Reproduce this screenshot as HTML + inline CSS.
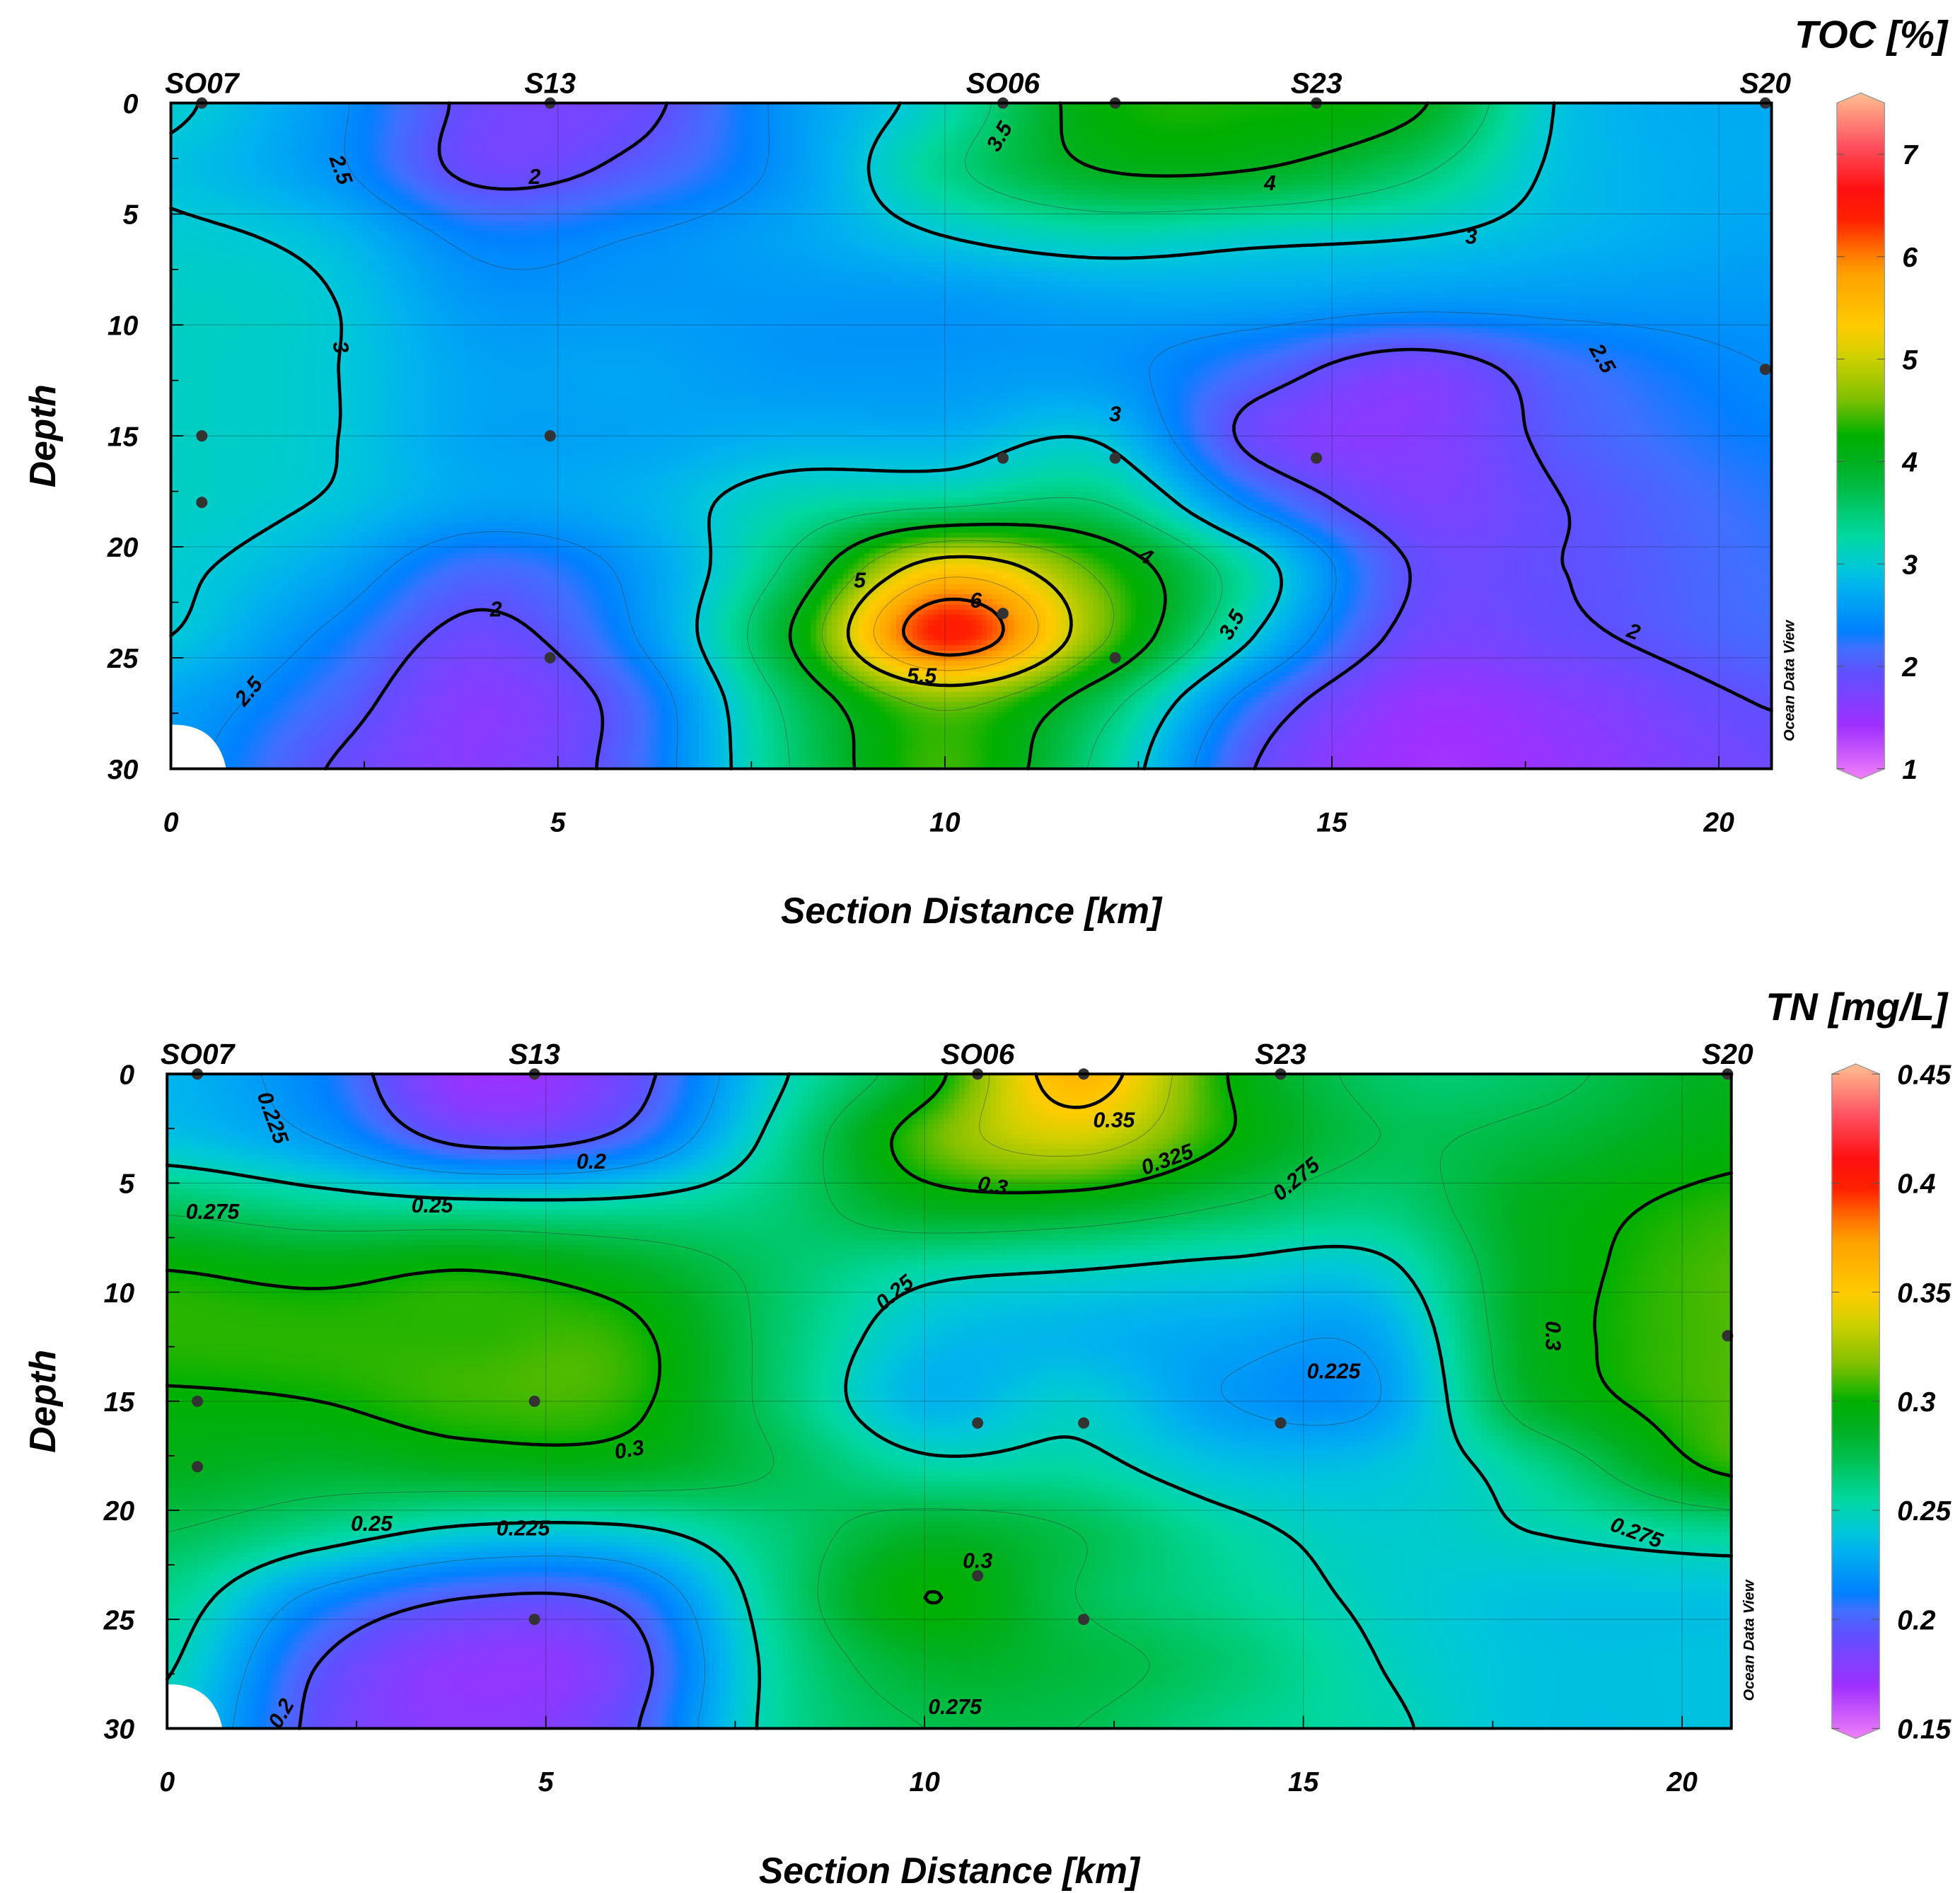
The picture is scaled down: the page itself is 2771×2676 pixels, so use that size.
<!DOCTYPE html>
<html><head><meta charset="utf-8">
<style>
html,body{margin:0;padding:0;background:#fff}
#wrap{position:relative;width:2771px;height:2676px;overflow:hidden}
canvas,svg{position:absolute;left:0;top:0}
text{font-family:"Liberation Sans",sans-serif;font-weight:bold;font-style:italic;fill:#000}
</style></head>
<body>
<div id="wrap">
<canvas id="cv" width="2771" height="2676"></canvas>
<svg id="sv" width="2771" height="2676" viewBox="0 0 1560 1507" preserveAspectRatio="none"></svg>
</div>
<script>
// ---------- data ----------
const xsKm = [0,2,4,6,8,10,12,14,16,18,20.7];
const depths = [0,3,6,9,12,15,18,21,24,27,30];
const tocGrid = [
 [3.05,2.6,1.9,1.9,2.6,3.2,4.2,4.3,4.1,2.95,2.75],
 [2.95,2.6,1.9,2.1,2.6,3.4,4.0,4.0,3.6,2.92,2.75],
 [3.05,2.9,2.4,2.5,2.7,3.0,3.2,3.1,3.02,2.85,2.7],
 [3.12,3.02,2.6,2.6,2.6,2.6,2.7,2.7,2.6,2.6,2.6],
 [3.12,3.02,2.7,2.7,2.6,2.6,2.6,2.2,1.8,2.2,2.5],
 [3.12,3.02,2.7,2.7,2.8,2.8,2.95,1.9,1.7,2.1,2.4],
 [3.12,2.98,2.7,2.8,3.2,3.4,3.5,2.4,1.8,2.0,2.3],
 [3.05,2.75,2.2,2.6,3.6,5.3,4.4,3.2,2.0,2.0,2.25],
 [3.0,2.45,1.9,2.5,4.0,6.35,4.6,3.0,1.9,1.95,2.2],
 [2.7,2.2,1.7,2.2,3.6,4.6,3.7,2.3,1.6,1.7,2.02],
 [2.6,2.0,1.7,2.2,3.5,4.4,3.4,2.0,1.5,1.6,1.9]];
const tnGrid = [
 [.235,.215,.175,.19,.245,.29,.36,.30,.27,.27,.29],
 [.24,.225,.195,.205,.255,.31,.335,.30,.275,.28,.295],
 [.27,.26,.255,.255,.265,.29,.29,.275,.265,.29,.305],
 [.30,.295,.30,.29,.27,.255,.25,.245,.245,.29,.31],
 [.305,.305,.305,.305,.27,.24,.235,.23,.23,.29,.31],
 [.298,.30,.307,.305,.27,.235,.245,.225,.225,.285,.31],
 [.29,.285,.29,.29,.275,.255,.255,.24,.24,.26,.305],
 [.275,.26,.245,.245,.265,.285,.275,.255,.245,.25,.26],
 [.26,.22,.20,.205,.26,.30,.275,.26,.247,.24,.24],
 [.252,.20,.18,.19,.255,.285,.28,.268,.25,.24,.24],
 [.245,.195,.18,.195,.255,.275,.275,.262,.253,.24,.24]];
const tocThick = [2,3,4,5,6];
const tocThin = [2.5,3.5,4.5,5.5];
const tnThick = [0.2,0.25,0.3,0.35];
const tnThin = [0.225,0.275,0.325];
const tocTickLabels = ["1","2","3","4","5","6","7"];
const tocTickVals = [1,2,3,4,5,6,7];
const tnTickLabels = ["0.15","0.2","0.25","0.3","0.35","0.4","0.45"];
const tnTickVals = [0.15,0.2,0.25,0.3,0.35,0.4,0.45];
const stationNames = ["SO07","S13","SO06","S23","S20"];
const topStationKm = [0.4,4.9,10.75,14.8,20.6];
const botStationKm = [0.4,4.85,10.7,14.7,20.6];
const topSamples = [[0.4,0],[4.9,0],[10.75,0],[12.2,0],[14.8,0],[20.6,0],[0.4,15],[0.4,18],[4.9,15],[10.75,16],[12.2,16],[14.8,16],[20.6,12],[4.9,25],[10.75,23],[12.2,25]];
const botSamples = [[0.4,0],[4.85,0],[10.7,0],[12.1,0],[14.7,0],[20.6,0],[0.4,15],[0.4,18],[4.85,15],[10.7,16],[12.1,16],[14.7,16],[20.6,12],[4.85,25],[10.7,23],[12.1,25]];
const xTickVals = [0,5,10,15,20];
const yTickVals = [0,5,10,15,20,25,30];

// ---------- colormap ----------
const cmap = [[0,"#f080f8"],[0.077,"#a030ff"],[0.154,"#6050ff"],[0.19,"#4070ff"],[0.215,"#0080ff"],[0.277,"#00b0f0"],[0.308,"#00c8d8"],[0.354,"#00d8a0"],[0.415,"#00c050"],[0.46,"#00b020"],[0.5,"#00b000"],[0.554,"#80c000"],[0.615,"#d0d000"],[0.66,"#ffcc00"],[0.738,"#ffa000"],[0.77,"#ff7000"],[0.815,"#ff2000"],[0.86,"#ff1010"],[0.923,"#ff5060"],[1,"#ffc090"]];
function hex(h){return [parseInt(h.substr(1,2),16),parseInt(h.substr(3,2),16),parseInt(h.substr(5,2),16)];}
const cm = cmap.map(s=>[s[0],hex(s[1])]);
function color(f){f=Math.max(0,Math.min(1,f));for(let i=0;i<cm.length-1;i++){if(f<=cm[i+1][0]){const t=(f-cm[i][0])/(cm[i+1][0]-cm[i][0]);const a=cm[i][1],b=cm[i+1][1];return "rgb("+Math.round(a[0]+(b[0]-a[0])*t)+","+Math.round(a[1]+(b[1]-a[1])*t)+","+Math.round(a[2]+(b[2]-a[2])*t)+")";}}return "rgb(255,192,144)";}

// ---------- interpolation ----------
function cr(p0,p1,p2,p3,t){return 0.5*((2*p1)+(-p0+p2)*t+(2*p0-5*p1+4*p2-p3)*t*t+(-p0+3*p1-3*p2+p3)*t*t*t);}
function locate(arr,v){let i=0;while(i<arr.length-2&&v>arr[i+1])i++;let t=(v-arr[i])/(arr[i+1]-arr[i]);return [i,Math.max(0,Math.min(1,t))];}
function sample(grid,km,d){
  const [i,tx]=locate(xsKm,km),[j,ty]=locate(depths,d);
  const n=xsKm.length,m=depths.length;
  const row=r=>{r=Math.max(0,Math.min(m-1,r));const g=grid[r];const c=k=>g[Math.max(0,Math.min(n-1,k))];return cr(c(i-1),c(i),c(i+1),c(i+2),tx);};
  return cr(row(j-1),row(j),row(j+1),row(j+2),ty);
}

// ---------- drawing ----------
const SX=2771/1560, SY=2676/1507;
const ctx=document.getElementById('cv').getContext('2d');
const svg=document.getElementById('sv');
const NS="http://www.w3.org/2000/svg";
function el(tag,attrs,parent){const e=document.createElementNS(NS,tag);for(const k in attrs)e.setAttribute(k,attrs[k]);(parent||svg).appendChild(e);return e;}
function txt(s,attrs,parent){const e=el('text',attrs,parent);e.textContent=s;return e;}

let clipId=0;
function drawPlot(P){
  const xS=km=>P.x0+(km/P.kmMax)*(P.x1-P.x0);
  const yS=d=>P.y0+(d/30)*(P.y1-P.y0);
  const fr=v=>(v-P.vmin)/(P.vmax-P.vmin);
  const nx=300, ny=130;
  const vals=[];
  for(let j=0;j<=ny;j++){vals.push([]);for(let i=0;i<=nx;i++){vals[j].push(sample(P.grid,P.kmMax*i/nx,30*j/ny));}}
  const cw=(P.x1-P.x0)/nx, ch=(P.y1-P.y0)/ny;
  for(let j=0;j<ny;j++)for(let i=0;i<nx;i++){
    const v=(vals[j][i]+vals[j][i+1]+vals[j+1][i]+vals[j+1][i+1])/4;
    ctx.fillStyle=color(fr(v));
    const px=(P.x0+i*cw)*SX, py=(P.y0+j*ch)*SY;
    ctx.fillRect(Math.floor(px),Math.floor(py),Math.ceil(cw*SX)+1,Math.ceil(ch*SY)+1);
  }
  const g=el('g',{});
  xTickVals.forEach(v=>{const l=el('line',{x1:xS(v),x2:xS(v),y1:P.y0,y2:P.y1,stroke:'#000','stroke-opacity':0.25,'stroke-width':0.6},g);});
  yTickVals.forEach(v=>{const l=el('line',{x1:P.x0,x2:P.x1,y1:yS(v),y2:yS(v),stroke:'#000','stroke-opacity':0.25,'stroke-width':0.6},g);});
  const ms=(lev)=>{let dstr="";
    const X=i=>P.x0+i*cw, Y=j=>P.y0+j*ch;
    for(let j=0;j<ny;j++)for(let i=0;i<nx;i++){
      const a=vals[j][i],b=vals[j][i+1],c=vals[j+1][i+1],d=vals[j+1][i];
      const pts=[];
      const e=(v1,v2,x1,y1,x2,y2)=>{const t=(lev-v1)/(v2-v1);pts.push([x1+(x2-x1)*t,y1+(y2-y1)*t]);};
      if((a<lev)!=(b<lev))e(a,b,X(i),Y(j),X(i+1),Y(j));
      if((b<lev)!=(c<lev))e(b,c,X(i+1),Y(j),X(i+1),Y(j+1));
      if((c<lev)!=(d<lev))e(c,d,X(i+1),Y(j+1),X(i),Y(j+1));
      if((d<lev)!=(a<lev))e(d,a,X(i),Y(j+1),X(i),Y(j));
      for(let k=0;k+1<pts.length;k+=2)dstr+="M"+pts[k][0].toFixed(1)+" "+pts[k][1].toFixed(1)+"L"+pts[k+1][0].toFixed(1)+" "+pts[k+1][1].toFixed(1);
    }return dstr;};
  P.thin.forEach(l=>{const p=el('path',{d:ms(l),stroke:'#333','stroke-opacity':0.5,'stroke-width':0.5,fill:'none'},g);});
  P.thick.forEach(l=>{const p=el('path',{d:ms(l),stroke:'#000','stroke-width':2.6,fill:'none','stroke-linecap':'round'},g);});
  const wb=el('path',{d:`M${P.x0} ${P.y1-35} C${P.x0+28} ${P.y1-36} ${P.x0+40} ${P.y1-20} ${P.x0+44} ${P.y1} L${P.x0} ${P.y1}Z`,fill:'#fff'},g);
  
  P.labels.forEach(L=>{const t=txt(L[0],{x:xS(L[1]),y:yS(L[2])+6,'font-size':17,'text-anchor':'middle',transform:`rotate(${L[3]} ${xS(L[1])} ${yS(L[2])})`},g);});
  P.samples.forEach(s=>{const c=el('circle',{cx:xS(s[0]),cy:yS(s[1]),r:4.5,fill:'#333'},g);});
  el('rect',{x:P.x0,y:P.y0,width:P.x1-P.x0,height:P.y1-P.y0,fill:'none',stroke:'#000','stroke-width':2.2},g);
  for(let v=0;v<=P.kmMax;v+=2.5){const l=el('line',{x1:xS(v),x2:xS(v),y1:P.y1,y2:P.y1-(v%5==0?10:6),stroke:'#000','stroke-width':1},g);}
  for(let v=0;v<=30;v+=2.5){const l=el('line',{x1:P.x0,x2:P.x0+(v%5==0?10:6),y1:yS(v),y2:yS(v),stroke:'#000','stroke-width':1},g);}
  xTickVals.forEach(v=>{const t=txt(String(v),{x:xS(v),y:P.y1+50,'font-size':22,'text-anchor':'middle'},g);});
  yTickVals.forEach(v=>{const t=txt(String(v),{x:P.x0-26,y:yS(v)+8,'font-size':22,'text-anchor':'end'},g);});
  stationNames.forEach((n,k)=>{const t=txt(n,{x:xS(P.stKm[k]),y:P.y0-8,'font-size':23,'text-anchor':'middle'},g);});
  const xt=txt("Section Distance [km]",{x:(P.x0+P.x1)/2,y:P.y1+123,'font-size':29,'text-anchor':'middle'},g);
  const yt=txt("Depth",{x:0,y:0,'font-size':29,'text-anchor':'middle',transform:`translate(44 ${(P.y0+P.y1)/2}) rotate(-90)`},g);
  const od=txt("Ocean Data View",{x:0,y:0,'font-size':12,'text-anchor':'middle',transform:`translate(${P.x1+18} ${P.y1-70}) rotate(-90)`},g);
  const gid='grad'+(clipId++);
  const defs=el('defs',{},g);const lg=el('linearGradient',{id:gid,x1:0,y1:1,x2:0,y2:0},defs);
  cmap.forEach(s=>el('stop',{offset:s[0],'stop-color':s[1]},lg));
  const cb=P.cb;const cyS=v=>cb.y1-(v-P.vmin)/(P.vmax-P.vmin)*(cb.y1-cb.y0);
  const mid=(cb.x0+cb.x1)/2;
  const bar=el('path',{d:`M${cb.x0} ${cb.y0} L${mid} ${cb.y0-8} L${cb.x1} ${cb.y0} L${cb.x1} ${cb.y1} L${mid} ${cb.y1+8} L${cb.x0} ${cb.y1}Z`,fill:`url(#${gid})`,stroke:'#999','stroke-width':0.8},g);
  
  P.tickVals.forEach((v,k)=>{const y=cyS(v);el('line',{x1:cb.x0,x2:cb.x0+6,y1:y,y2:y,stroke:'#555','stroke-width':0.6},g);el('line',{x1:cb.x1-6,x2:cb.x1,y1:y,y2:y,stroke:'#555','stroke-width':0.6},g);
    const t=txt(P.tickLabels[k],{x:cb.x1+14,y:y+8,'font-size':22},g);});
  const tt=txt(P.title,{x:1550,y:P.titleY,'font-size':31,'text-anchor':'end'},g);
}

drawPlot({name:'toc',x0:136,x1:1410,y0:82,y1:612,kmMax:20.68,grid:tocGrid,vmin:1,vmax:7.5,thick:tocThick,thin:tocThin,
  samples:topSamples,stKm:topStationKm,tickVals:tocTickVals,tickLabels:tocTickLabels,title:"TOC [%]",titleY:38,
  cb:{x0:1462,x1:1500,y0:82,y1:612},
  labels:[["2",4.7,3.3,0],["2.5",2.2,3,70],["3.5",10.7,1.5,-60],["4",14.2,3.6,0],["3",16.8,6,0],["3",2.2,11,80],["3",12.2,14,0],["2.5",18.5,11.5,60],["5",8.9,21.5,0],["6",10.4,22.4,0],["4",12.6,20.4,30],["3.5",13.7,23.5,-60],["5.5",9.7,25.8,0],["2",4.2,22.8,0],["2.5",1,26.5,-50],["2",18.9,23.8,20]]});
drawPlot({name:'tn',x0:133,x1:1378,y0:855,y1:1376,kmMax:20.65,grid:tnGrid,vmin:0.15,vmax:0.45,thick:tnThick,thin:tnThin,
  samples:botSamples,stKm:botStationKm,tickVals:tnTickVals,tickLabels:tnTickLabels,title:"TN [mg/L]",titleY:812,
  cb:{x0:1458,x1:1496,y0:855,y1:1376},
  labels:[["0.225",1.4,2,70],["0.2",5.6,4,0],["0.25",3.5,6,0],["0.275",0.6,6.3,0],["0.3",10.9,5.1,10],["0.35",12.5,2.1,0],["0.325",13.2,3.9,-20],["0.275",14.9,4.8,-40],["0.25",9.6,10,-40],["0.3",6.1,17.2,-10],["0.225",15.4,13.6,0],["0.3",18.3,12,90],["0.275",19.4,21,20],["0.25",2.7,20.6,0],["0.225",4.7,20.8,0],["0.3",10.7,22.3,0],["0.275",10.4,29,0],["0.2",1.5,29.3,-60]]});
</script>
</body></html>
